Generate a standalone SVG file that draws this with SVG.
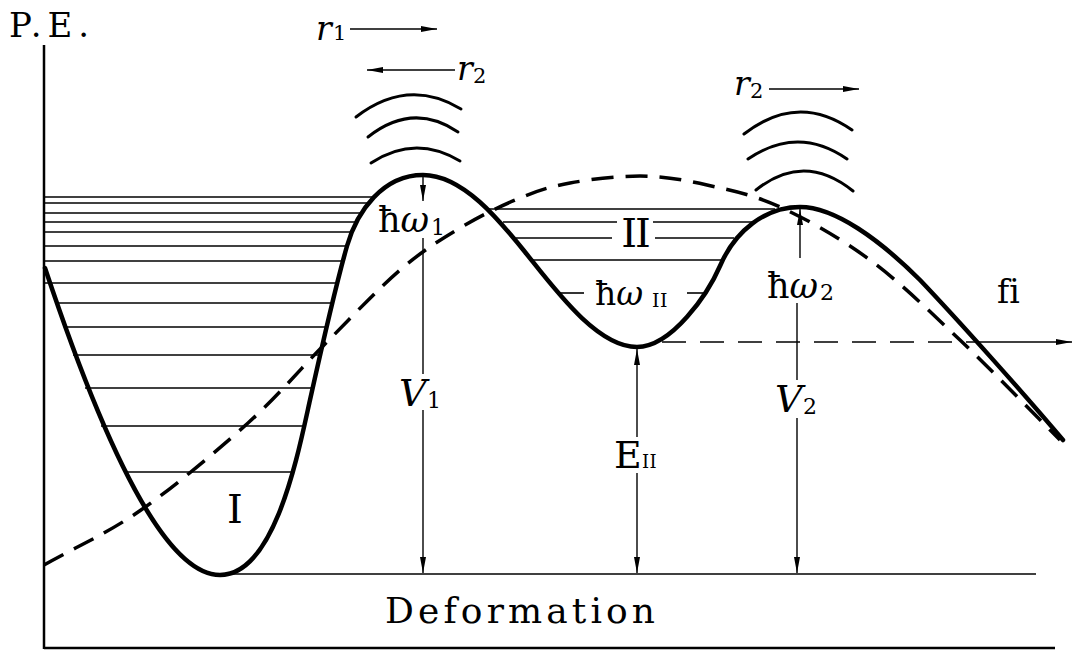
<svg xmlns="http://www.w3.org/2000/svg" width="1073" height="653" viewBox="0 0 1073 653">
<style>
.curve{fill:none;stroke:#000;stroke-width:4.5;stroke-linecap:round;stroke-linejoin:round}
.dash{fill:none;stroke:#000;stroke-width:3.5;stroke-dasharray:22 12}
.lvl{stroke:#000;stroke-width:1.6}
.axis{stroke:#000;stroke-width:2.5;fill:none}
.arr{stroke:#000;stroke-width:1.4;fill:none}
.hdash{stroke:#000;stroke-width:1.4;stroke-dasharray:24 14}
.arc{fill:none;stroke:#000;stroke-width:3;stroke-linecap:round}
text{font-family:"DejaVu Serif","Liberation Serif",serif;fill:#000;font-variant-ligatures:none}
.it{font-style:italic}
</style>
<defs>
<marker id="ah" markerWidth="18" markerHeight="8" refX="16" refY="4" orient="auto" markerUnits="userSpaceOnUse"><path d="M0,1 L16,4 L0,7 z" fill="#000"/></marker>
</defs>

<g id="axes">
<line class="axis" x1="44" y1="45" x2="44" y2="649"/>
<line class="axis" x1="44" y1="648" x2="1055" y2="648"/>
<line class="lvl" x1="220" y1="574" x2="1036" y2="574"/>
</g>

<g id="levels-I">
<line class="lvl" x1="44" y1="197" x2="374" y2="197"/>
<line class="lvl" x1="44" y1="203" x2="368" y2="203"/>
<line class="lvl" x1="44" y1="213" x2="362" y2="213"/>
<line class="lvl" x1="44" y1="222" x2="357" y2="222"/>
<line class="lvl" x1="44" y1="232" x2="352" y2="232"/>
<line class="lvl" x1="44" y1="246" x2="347" y2="246"/>
<line class="lvl" x1="44" y1="261" x2="343" y2="261"/>
<line class="lvl" x1="44" y1="283" x2="337" y2="283"/>
<line class="lvl" x1="56" y1="303" x2="332" y2="303"/>
<line class="lvl" x1="64" y1="327" x2="325" y2="327"/>
<line class="lvl" x1="73" y1="355" x2="319" y2="355"/>
<line class="lvl" x1="85" y1="388" x2="313" y2="388"/>
<line class="lvl" x1="101" y1="426" x2="304" y2="426"/>
<line class="lvl" x1="124" y1="472" x2="292" y2="472"/>
</g>

<g id="levels-II">
<line class="lvl" x1="488" y1="209" x2="775" y2="209"/>
<line class="lvl" x1="503" y1="222" x2="617" y2="222"/>
<line class="lvl" x1="653" y1="222" x2="752" y2="222"/>
<line class="lvl" x1="516" y1="238" x2="612" y2="238"/>
<line class="lvl" x1="655" y1="238" x2="734" y2="238"/>
<line class="lvl" x1="532" y1="260" x2="722" y2="260"/>
<line class="lvl" x1="558" y1="293" x2="584" y2="293"/>
<line class="lvl" x1="687" y1="293" x2="707" y2="293"/>
</g>

<g id="barrier-curve">
<path class="curve" d="M45,268 C125,508 180,575 220,575 C275,575 298,454 310,400 C320,355 337,281 347,246 C357,211 383,175 423,175 C463,175 500,221 525,252 C555,289.5 597,347 637,347 C672,347 708,293.6 720,266 C735,231 765,207 800,207 C835,207 880,240 920,280 C960,322 1025,395 1063,440"/>
</g>

<g id="liquid-drop-curve">
<path class="dash" d="M44,565 C76.3,546.7 107,533.7 141,510 C175,486.3 217.5,450.5 248,423 C278.5,395.5 298.7,370.5 324,345 C349.3,319.5 377.3,289.5 400,270 C422.7,250.5 440,240 460,228 C480,216 501.7,205.5 520,198 C538.3,190.5 550,186.7 570,183 C590,179.3 617,176 640,176 C663,176 683.7,179.8 707,185 C730.3,190.2 752.8,194.5 780,207 C807.2,219.5 840,237.8 870,260 C900,282.2 928.3,310 960,340 C991.7,370 1026.7,406.7 1060,440"/>
</g>

<g id="vibration-arcs">
<path class="arc" d="M356,117 Q408,77 461,109"/>
<path class="arc" d="M368,137 Q413,101.5 458,132"/>
<path class="arc" d="M371,163 Q415,134 460,161"/>
<path class="arc" d="M744,134 Q798,92 852,130"/>
<path class="arc" d="M748,159 Q798,125 847,159"/>
<path class="arc" d="M756,190 Q804,151.5 853,191"/>
</g>

<g id="connectors">
<line class="arr" x1="350" y1="29" x2="437" y2="29" marker-end="url(#ah)"/>
<line class="arr" x1="455" y1="70" x2="367" y2="70" marker-end="url(#ah)"/>
<line class="arr" x1="769" y1="89" x2="859" y2="89" marker-end="url(#ah)"/>
<line class="arr" x1="423" y1="177" x2="423" y2="201" marker-end="url(#ah)"/>
<line class="arr" x1="423" y1="238" x2="423" y2="374"/>
<line class="arr" x1="423" y1="410" x2="423" y2="573" marker-end="url(#ah)"/>
<line class="arr" x1="800" y1="258" x2="800" y2="209" marker-end="url(#ah)"/>
<line class="arr" x1="797" y1="303" x2="797" y2="380"/>
<line class="arr" x1="797" y1="418" x2="797" y2="573" marker-end="url(#ah)"/>
<line class="arr" x1="637" y1="437" x2="637" y2="349" marker-end="url(#ah)"/>
<line class="arr" x1="637" y1="473" x2="637" y2="573" marker-end="url(#ah)"/>
<line class="hdash" x1="662" y1="342" x2="968" y2="342"/>
<line class="arr" x1="968" y1="342" x2="1072" y2="342" marker-end="url(#ah)"/>
</g>

<g id="labels">
<text x="9" y="37" font-size="34" textLength="80" lengthAdjust="spacing">P.E.</text>
<text x="316" y="40" font-size="33" class="it">r</text>
<text x="333" y="40" font-size="21">1</text>
<text x="457" y="80" font-size="33" class="it">r</text>
<text x="473" y="83" font-size="21">2</text>
<text x="734" y="95" font-size="33" class="it">r</text>
<text x="750" y="98" font-size="21">2</text>
<text x="378" y="232" font-size="35">ħ<tspan class="it">ω</tspan></text>
<text x="431" y="235" font-size="22">1</text>
<text x="767" y="298" font-size="35">ħ<tspan class="it">ω</tspan></text>
<text x="820" y="300" font-size="22">2</text>
<text x="595" y="305" font-size="33">ħ<tspan class="it">ω</tspan></text>
<text x="652" y="307" font-size="19" letter-spacing="0.5">II</text>
<text x="635" y="247" font-size="40" text-anchor="middle" letter-spacing="-2">II</text>
<text x="235" y="523" font-size="40" text-anchor="middle">I</text>
<text x="399" y="406" font-size="38" class="it">V</text>
<text x="427" y="408" font-size="22">1</text>
<text x="775" y="412" font-size="38" class="it">V</text>
<text x="803" y="414" font-size="22">2</text>
<text x="614" y="468" font-size="38">E</text>
<text x="642" y="468" font-size="18" letter-spacing="0.5">II</text>
<text x="997" y="303" font-size="33">fi</text>
<text x="385" y="623" font-size="36" textLength="270" lengthAdjust="spacing">Deformation</text>
</g>
</svg>
